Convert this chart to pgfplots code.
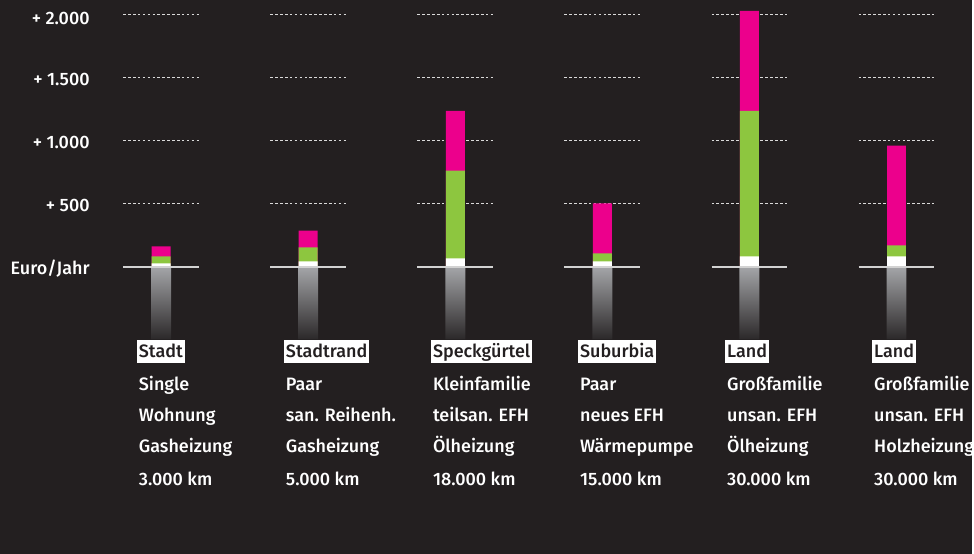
\documentclass[border=0pt]{standalone}
\usepackage{fontspec}
\setmainfont{Fira Sans}[UprightFont={* Medium}]
\usepackage{pgfplots}
\pgfplotsset{compat=1.18}
\usepackage{pgfplotstable}
\definecolor{bg}{HTML}{231F20}
\definecolor{pinkc}{HTML}{EC008C}
\definecolor{greenc}{HTML}{8DC63F}
\definecolor{gradtop}{HTML}{A4A5A8}
\definecolor{gradbot}{HTML}{2B2829}
\definecolor{gridc}{HTML}{DADADA}
\definecolor{basec}{HTML}{D2D2D2}

% segments: w = white, g = green, p = pink (Euro/Jahr)
\pgfplotstableread{
x w g p
0 28 55 79
1 43 111 134
2 67 695 474
3 43 64 395
4 83 1153 790
5 83 87 790
}\costs
\pgfplotstableread{
x v
0 -573
1 -573
2 -573
3 -573
4 -573
5 -573
}\grad

\begin{document}
\begin{tikzpicture}
\fill[bg] (0,0) rectangle (974bp,555bp);
\begin{axis}[
  at={(0,0)}, anchor=south west,
  width=974bp, height=555bp, scale only axis,
  xmin=-1.09566, xmax=5.51221, ymin=-2271, ymax=2113,
  hide axis,
]
\pgfplotsinvokeforeach{0,...,5}{
  \draw[gridc, line width=1.5bp, dash pattern=on 2.6bp off 2.3bp] ([xshift=-38bp]axis cs:#1,500) -- ([xshift=38bp]axis cs:#1,500);
  \draw[gridc, line width=1.5bp, dash pattern=on 2.6bp off 2.3bp] ([xshift=-38bp]axis cs:#1,1000) -- ([xshift=38bp]axis cs:#1,1000);
  \draw[gridc, line width=1.5bp, dash pattern=on 2.6bp off 2.3bp] ([xshift=-38bp]axis cs:#1,1500) -- ([xshift=38bp]axis cs:#1,1500);
  \draw[gridc, line width=1.5bp, dash pattern=on 2.6bp off 2.3bp] ([xshift=-38bp]axis cs:#1,2000) -- ([xshift=38bp]axis cs:#1,2000);
}
\addplot[ybar, bar width=20bp, bar shift=0pt, draw=none, top color=gradtop, bottom color=gradbot] table[x=x, y=v] {\grad};
\addplot[ybar, bar width=19bp, bar shift=0pt, draw=none, fill=pinkc] table[x=x, y expr=\thisrow{w}+\thisrow{g}+\thisrow{p}] {\costs};
\addplot[ybar, bar width=19bp, bar shift=0pt, draw=none, fill=greenc] table[x=x, y expr=\thisrow{w}+\thisrow{g}] {\costs};
\addplot[ybar, bar width=19bp, bar shift=0pt, draw=none, fill=white] table[x=x, y=w] {\costs};
\pgfplotsinvokeforeach{0,...,5}{
  \draw[basec, line width=1.5bp] ([xshift=-38bp]axis cs:#1,0) -- ([xshift=38bp]axis cs:#1,0);
}
\end{axis}
% y labels
\begin{scope}[every node/.style={text=white, font=\fontsize{18bp}{20bp}\selectfont, inner sep=0pt, anchor=base east}]
\node at (90bp,530.7bp) {+ 2.000};
\node at (90bp,469bp) {+ 1.500};
\node at (90bp,406bp) {+ 1.000};
\node at (90bp,343bp) {+ 500};
\node at (90bp,280bp) {Euro/Jahr};
\end{scope}
% category labels
\foreach \i/\a/\b/\c/\d/\e in {
  0/Stadt/Single/Wohnung/Gasheizung/3.000 km,
  1/Stadtrand/Paar/san. Reihenh./Gasheizung/5.000 km,
  2/Speckgürtel/Kleinfamilie/teilsan. EFH/Ölheizung/18.000 km,
  3/Suburbia/Paar/neues EFH/Wärmepumpe/15.000 km,
  4/Land/Großfamilie/unsan. EFH/Ölheizung/30.000 km,
  5/Land/Großfamilie/unsan. EFH/Holzheizung/30.000 km}{
  \pgfmathsetmacro\cx{161.5+147.4*\i-22.5}
  \node[fill=white, text=bg, anchor=base west, inner xsep=2bp, inner ysep=0pt, text height=17bp, text depth=6bp, font=\fontsize{18bp}{20bp}\selectfont] at (\cx bp-2bp,197bp) {\a};
  \begin{scope}[every node/.style={text=white, anchor=base west, inner sep=0pt, font=\fontsize{18bp}{20bp}\selectfont}]
  \node at (\cx bp,164bp) {\b};
  \node at (\cx bp,132.3bp) {\c};
  \node at (\cx bp,101bp) {\d};
  \node at (\cx bp,68.3bp) {\e};
  \end{scope}
}
\end{tikzpicture}
\end{document}
